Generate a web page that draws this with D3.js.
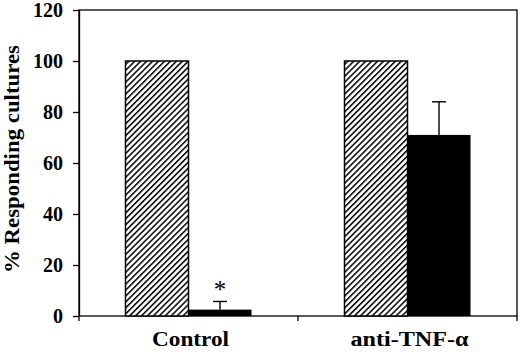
<!DOCTYPE html>
<html>
<head>
<meta charset="utf-8">
<script src="https://cdn.jsdelivr.net/npm/d3@7"></script>
<style>
  body { margin: 0; background: #fff; }
  text { font-family: "Liberation Serif", "Times New Roman", serif; font-weight: bold; fill: #000; }
</style>
</head>
<body>
<div id="okvir"></div>
<script>
const kategorije = ["Control", "anti-TNF-\u03b1"]
const serije = ["hatched", "solid"]
const vrijednostiHatch = [100, 100]
const vrijednostiSolid = [2.5, 71]
const greskeSolid = [3.2, 13]
const yTickovi = [0, 20, 40, 60, 80, 100, 120]

const dim = { sirina: 520, visina: 352, margine: { top: 10, right: 3, bottom: 36, left: 79 } }
dim.grSirina = dim.sirina - dim.margine.left - dim.margine.right
dim.grVisina = dim.visina - dim.margine.top - dim.margine.bottom

const svg = d3.select("#okvir").append("svg")
  .attr("width", dim.sirina)
  .attr("height", dim.visina)

const defs = svg.append("defs")
defs.append("pattern")
  .attr("id", "srafura")
  .attr("patternUnits", "userSpaceOnUse")
  .attr("width", 4.2).attr("height", 4.2)
  .attr("patternTransform", "rotate(45)")
  .call(p => {
    p.append("rect").attr("width", 4.2).attr("height", 4.2).attr("fill", "#fff")
    p.append("line").attr("x1", 0).attr("y1", 0).attr("x2", 0).attr("y2", 4.2)
      .attr("stroke", "#000").attr("stroke-width", 3)
  })

const g = svg.append("g")
  .attr("transform", `translate(${dim.margine.left},${dim.margine.top})`)

const x = d3.scaleBand().domain(kategorije).range([0, dim.grSirina])
const xInner = d3.scaleBand().domain(serije).range([0, 126])
const y = d3.scaleLinear().domain([0, 120]).range([dim.grVisina, 0])

// okvir
g.append("rect")
  .attr("width", dim.grSirina).attr("height", dim.grVisina)
  .attr("fill", "none").attr("stroke", "#000").attr("stroke-width", 1.3)

const grupe = g.selectAll(".grupa")
  .data(kategorije)
  .enter().append("g")
  .attr("transform", d => `translate(${x(d) + x.bandwidth() / 2 - 63},0)`)

grupe.append("rect")
  .attr("x", xInner("hatched"))
  .attr("width", xInner.bandwidth())
  .attr("y", (d, i) => y(vrijednostiHatch[i]))
  .attr("height", (d, i) => y(0) - y(vrijednostiHatch[i]))
  .attr("fill", "url(#srafura)")
  .attr("stroke", "#000").attr("stroke-width", 1.5)

grupe.append("rect")
  .attr("x", xInner("solid"))
  .attr("width", xInner.bandwidth())
  .attr("y", (d, i) => y(vrijednostiSolid[i]))
  .attr("height", (d, i) => y(0) - y(vrijednostiSolid[i]))
  .attr("fill", "#000")

// error bars
const cx = xInner("solid") + xInner.bandwidth() / 2
grupe.append("line")
  .attr("x1", cx).attr("x2", cx)
  .attr("y1", (d, i) => y(vrijednostiSolid[i]))
  .attr("y2", (d, i) => y(vrijednostiSolid[i] + greskeSolid[i]))
  .attr("stroke", "#000").attr("stroke-width", 1.4)
grupe.append("line")
  .attr("x1", cx - 7).attr("x2", cx + 7)
  .attr("y1", (d, i) => y(vrijednostiSolid[i] + greskeSolid[i]))
  .attr("y2", (d, i) => y(vrijednostiSolid[i] + greskeSolid[i]))
  .attr("stroke", "#000").attr("stroke-width", 1.4)

// zvjezdica
g.append("text")
  .attr("x", x(kategorije[0]) + x.bandwidth() / 2 - 63 + cx)
  .attr("y", y(vrijednostiSolid[0] + greskeSolid[0]) - 3)
  .attr("text-anchor", "middle")
  .style("font-size", "25px").style("font-weight", "normal")
  .text("*")

// osi
const yOs = g.append("g")
  .call(d3.axisLeft(y).tickValues(yTickovi).tickSize(6).tickSizeOuter(0).tickPadding(10))
yOs.select(".domain").attr("stroke-width", 1.3)
yOs.selectAll("line").attr("stroke-width", 1.3)
yOs.selectAll("text").style("font-size", "20px").attr("dy", "0.34em")

const xGranice = [0, x.bandwidth(), dim.grSirina]
g.selectAll(".xtick")
  .data(xGranice)
  .enter().append("line")
  .attr("x1", d => d).attr("x2", d => d)
  .attr("y1", dim.grVisina).attr("y2", dim.grVisina + 5)
  .attr("stroke", "#000").attr("stroke-width", 1.3)

const xSirine = [77, 118]
g.selectAll(".xlabel")
  .data(kategorije)
  .enter().append("text")
  .attr("x", d => x(d) + x.bandwidth() / 2 + 2)
  .attr("y", 346 - dim.margine.top)
  .attr("text-anchor", "middle")
  .attr("textLength", (d, i) => xSirine[i])
  .attr("lengthAdjust", "spacingAndGlyphs")
  .style("font-size", "20px")
  .text(d => d)

svg.append("text")
  .attr("transform", "translate(19,159) rotate(-90)")
  .attr("text-anchor", "middle")
  .attr("textLength", 228)
  .attr("lengthAdjust", "spacingAndGlyphs")
  .style("font-size", "20px")
  .text("% Responding cultures")
</script>
</body>
</html>
